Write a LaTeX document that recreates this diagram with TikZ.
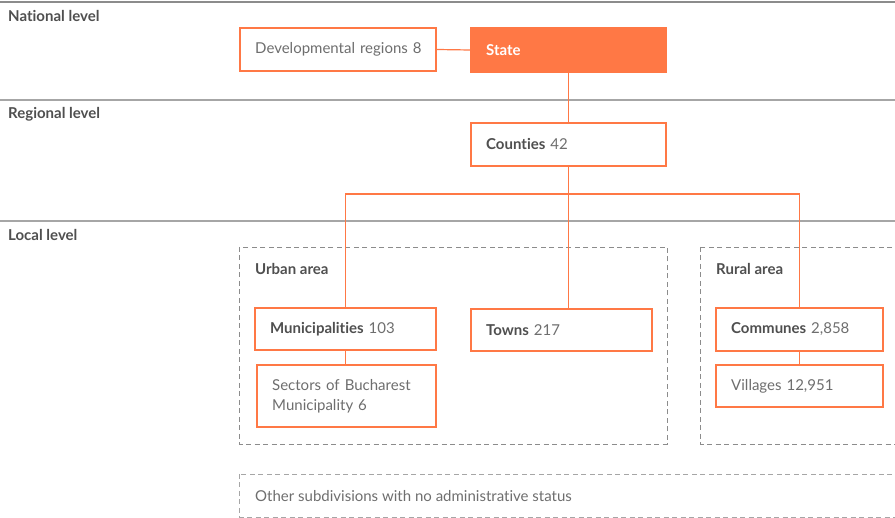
\documentclass[tikz,border=0pt]{standalone}
\usepackage{fontspec}
\setsansfont{Lato}[Ligatures=NoCommon]
\usetikzlibrary{positioning}
\definecolor{adOrange}{HTML}{FF7845}
\definecolor{adInk}{HTML}{4F4F4F}
\definecolor{adMuted}{HTML}{6E6E6E}
\definecolor{adRule}{HTML}{A6A6A6}
\definecolor{adDash}{HTML}{8C8C8C}
\newcommand{\adname}[1]{{\bfseries\color{adInk}#1}}
\tikzset{
  ad diagram/.style={x=1pt, y=-1pt, font=\sffamily\fontsize{15}{20}\selectfont,
    text=adMuted, line cap=butt},
  ad box/.style={draw=adOrange, fill=white, line width=2.4pt, align=left,
    inner xsep=15pt, inner ysep=4pt},
  ad key box/.style={ad box, fill=adOrange, text=white, font=\sffamily\bfseries\fontsize{15}{20}\selectfont},
  ad link/.style={draw=adOrange, line width=1.2pt},
  ad rule/.style={draw=adRule, line width=1.3pt},
  ad area/.style={draw=adDash, line width=0.9pt, dash pattern=on 5pt off 3.5pt},
  ad level/.style={anchor=west, inner sep=0pt, text=adInk,
    font=\sffamily\bfseries\fontsize{15}{18}\selectfont},
  ad area label/.style={ad level}
}

\begin{document}
\begin{tikzpicture}[ad diagram]
\useasboundingbox (0,0) rectangle (895,518);
% level rules
\draw[ad rule, draw=adDash] (0,2) -- (895,2);
\draw[ad rule] (0,100) -- (895,100);
\draw[ad rule] (0,221) -- (895,221);
\node[ad level] (national) at (8,16) {National level};
\node[ad level] (regional) at (8,114) {Regional level};
\node[ad level] (local) at (8,235) {Local level};
% urban / rural areas
\draw[ad area] (239,247) rectangle (667,444);
\draw[ad area] (700,247) rectangle (905,444);
\node[ad area label] (urban) at (255,269) {Urban area};
\node[ad area label] (rural) at (716,269) {Rural area};
\draw[ad area, draw=adRule] (239,474) rectangle (905,517);
\node[anchor=west, inner sep=0pt] (other) at (255,496)
  {Other subdivisions with no administrative status};
% units
\node[ad box, text width=165.6pt, minimum height=42.6pt] (dev) at (338,49.5) {\mbox{Developmental regions 8}};
\node[ad key box, text width=164.6pt, minimum height=43.6pt] (state) at (568.5,50) {State};
\node[ad box, text width=164.6pt, minimum height=42.6pt] (counties) at (568.5,144.5) {\adname{Counties} 42};
\node[ad box, text width=150.6pt, minimum height=41.6pt] (muni) at (345.5,329) {\adname{Municipalities} 103};
\node[ad box, text width=150.6pt, minimum height=41.6pt] (towns) at (561.5,330) {\adname{Towns} 217};
\node[ad box, text width=148.6pt, minimum height=61.6pt] (sectors) at (346.5,396)
  {Sectors of Bucharest\\Municipality 6};
\node[ad box, text width=136.6pt, minimum height=42.6pt] (communes) at (799.5,329.5) {\adname{Communes} 2,858};
\node[ad box, text width=136.6pt, minimum height=41.6pt] (villages) at (799.5,386) {Villages 12,951};
% links
\coordinate (split) at (568.5,194);
\draw[ad link] (dev.east) -- (state.west);
\draw[ad link] (state.south) -- (counties.north);
\draw[ad link] (counties.south) -- (split);
\draw[ad link] (split) -| (muni.north);
\draw[ad link] (split) -| (communes.north);
\draw[ad link] (split) -- (split |- towns.north);
\draw[ad link] (muni.south) -- (muni.south |- sectors.north);
\draw[ad link] (communes.south) -- (villages.north);
\end{tikzpicture}
\end{document}
